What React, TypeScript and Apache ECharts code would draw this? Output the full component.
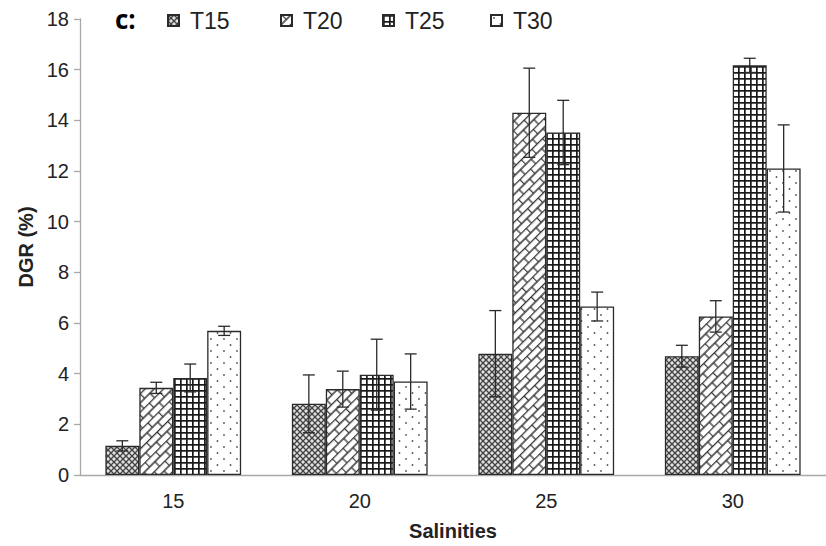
import { useEffect, useRef } from "react";
import * as echarts from "echarts";

// Daily growth rate by salinity, one series per temperature
const salinities = ["15", "20", "25", "30"];
const seriesNames = ["T15", "T20", "T25", "T30"];

const t15 = [1.15, 2.81, 4.79, 4.69];
const t20 = [3.44, 3.39, 14.3, 6.26];
const t25 = [3.83, 3.96, 13.52, 16.17];
const t30 = [5.69, 3.69, 6.65, 12.1];

// standard deviations drawn as error bars
const t15Err = [0.2, 1.14, 1.7, 0.43];
const t20Err = [0.22, 0.71, 1.76, 0.62];
const t25Err = [0.55, 1.4, 1.27, 0.28];
const t30Err = [0.18, 1.09, 0.57, 1.72];

const yMin = 0;
const yMax = 18;
const yStep = 2;

const FONT = "'Liberation Sans', Arial, Helvetica, sans-serif";
const BAR_FRAC = 0.182;
const legendLefts = [167, 280, 382, 490];

function tile(w: number, h: number, draw: (ctx: CanvasRenderingContext2D) => void) {
  const c = document.createElement("canvas");
  c.width = w;
  c.height = h;
  const ctx = c.getContext("2d")!;
  draw(ctx);
  return c;
}

function makePatterns() {
  // T15: dark diamond mesh over grey
  const mesh = tile(6, 6, (ctx) => {
    ctx.fillStyle = "#c4c4c4";
    ctx.fillRect(0, 0, 6, 6);
    ctx.strokeStyle = "#3e3e3e";
    ctx.lineWidth = 1.2;
    ctx.beginPath();
    ctx.moveTo(-1, -1);
    ctx.lineTo(7, 7);
    ctx.moveTo(7, -1);
    ctx.lineTo(-1, 7);
    ctx.stroke();
    ctx.fillStyle = "#ffffff";
    ctx.fillRect(2.5, 0, 1, 1);
    ctx.fillRect(0, 2.5, 1, 1);
    ctx.fillRect(5, 2.5, 1, 1);
    ctx.fillRect(2.5, 5, 1, 1);
  });
  // T20: diagonal brick
  const brick = tile(15, 13, (ctx) => {
    ctx.fillStyle = "#ffffff";
    ctx.fillRect(0, 0, 15, 13);
    ctx.strokeStyle = "#333333";
    ctx.lineWidth = 1.3;
    ctx.beginPath();
    ctx.moveTo(0, 0.5);
    ctx.lineTo(15, 0.5);
    ctx.moveTo(0, 7);
    ctx.lineTo(15, 7);
    ctx.moveTo(0.5, 0);
    ctx.lineTo(0.5, 7);
    ctx.moveTo(8, 7);
    ctx.lineTo(8, 13);
    ctx.stroke();
  });
  // T25: dense black grid
  const grid = tile(6, 6, (ctx) => {
    ctx.fillStyle = "#ffffff";
    ctx.fillRect(0, 0, 6, 6);
    ctx.fillStyle = "#1a1a1a";
    ctx.fillRect(0, 0, 6, 1.7);
    ctx.fillRect(0, 0, 1.7, 6);
  });
  // T30: sparse staggered dots
  const dots = tile(13, 12, (ctx) => {
    ctx.fillStyle = "#ffffff";
    ctx.fillRect(0, 0, 13, 12);
    ctx.fillStyle = "#555555";
    ctx.beginPath();
    ctx.arc(3, 3, 0.9, 0, Math.PI * 2);
    ctx.arc(9.5, 9, 0.9, 0, Math.PI * 2);
    ctx.fill();
  });
  return [
    { image: mesh, repeat: "repeat", imageWidth: 6, imageHeight: 6 },
    { image: brick, repeat: "repeat", imageWidth: 15, imageHeight: 13, rotation: -Math.PI / 4 },
    { image: grid, repeat: "repeat", imageWidth: 6, imageHeight: 6 },
    { image: dots, repeat: "repeat", imageWidth: 13, imageHeight: 12 },
  ];
}

function errorSeries(idx: number, vals: number[], errs: number[]) {
  const style = { stroke: "#2a2a2a", lineWidth: 1.3 };
  return {
    type: "custom",
    name: seriesNames[idx] + " SD",
    data: vals.map((v, i) => [i, v, errs[i]]),
    encode: { x: 0, y: 1 },
    z: 10,
    silent: true,
    renderItem: (_params: any, api: any) => {
      const ci = api.value(0);
      const v = api.value(1);
      const e = api.value(2);
      const band = api.size([1, 0])[0];
      const bw = band * BAR_FRAC;
      const cx = api.coord([ci, v])[0] + (idx - 1.5) * bw;
      const top = api.coord([ci, v + e])[1];
      const bot = api.coord([ci, v - e])[1];
      const hw = 6;
      return {
        type: "group",
        children: [
          { type: "line", shape: { x1: cx, y1: top, x2: cx, y2: bot }, style },
          { type: "line", shape: { x1: cx - hw, y1: top, x2: cx + hw, y2: top }, style },
          { type: "line", shape: { x1: cx - hw, y1: bot, x2: cx + hw, y2: bot }, style },
        ],
      };
    },
  };
}

export default function App() {
  const ref = useRef<HTMLDivElement>(null);

  useEffect(() => {
    if (!ref.current) return;
    const chart = echarts.init(ref.current, null, { renderer: "svg" });
    const patterns = makePatterns();
    const values = [t15, t20, t25, t30];
    const errs = [t15Err, t20Err, t25Err, t30Err];

    const bars = values.map((vals, i) => ({
      type: "bar",
      name: seriesNames[i],
      data: vals,
      barWidth: `${BAR_FRAC * 100}%`,
      barGap: "0%",
      itemStyle: {
        color: patterns[i],
        borderColor: "#2a2a2a",
        borderWidth: 1.3,
      },
    }));

    const option: any = {
      animation: false,
      backgroundColor: "#ffffff",
      textStyle: { fontFamily: FONT },
      grid: { left: 80, right: -14, top: 19, bottom: 68 },
      legend: seriesNames.map((n, i) => ({
        data: [n],
        left: legendLefts[i],
        top: 9,
        padding: 0,
        itemWidth: 11,
        itemHeight: 11,
        icon: "rect",
        selectedMode: false,
        textStyle: { fontSize: 23, color: "#222222", fontFamily: FONT, padding: [0, 0, 0, 6] },
      })),
      graphic: [
        {
          type: "text",
          left: 115,
          top: 6,
          style: {
            text: "c:",
            fontSize: 26,
            fontWeight: "bold",
            fontFamily: "'Open Sans', 'Noto Sans', sans-serif",
            fill: "#000000",
          },
        },
      ],
      xAxis: {
        type: "category",
        data: salinities,
        axisLine: { lineStyle: { color: "#a8a8a8", width: 1.3 } },
        axisTick: { length: 6, lineStyle: { color: "#a8a8a8", width: 1.3 } },
        axisLabel: { fontSize: 20, color: "#222222", margin: 16, fontFamily: FONT },
        name: "Salinities",
        nameLocation: "middle",
        nameGap: 46,
        nameTextStyle: { fontSize: 20, fontWeight: "bold", color: "#222222", fontFamily: FONT },
      },
      yAxis: {
        type: "value",
        min: yMin,
        max: yMax,
        interval: yStep,
        axisLine: { show: true, lineStyle: { color: "#a8a8a8", width: 1.3 } },
        axisTick: { show: true, length: 6, lineStyle: { color: "#a8a8a8", width: 1.3 } },
        splitLine: { show: false },
        axisLabel: { fontSize: 20, color: "#222222", margin: 11, fontFamily: FONT },
        name: "DGR (%)",
        nameLocation: "middle",
        nameGap: 38,
        nameTextStyle: { fontSize: 20, fontWeight: "bold", color: "#222222", fontFamily: FONT },
      },
      series: [...bars, ...values.map((vals, i) => errorSeries(i, vals, errs[i]))],
    };

    chart.setOption(option);
    return () => chart.dispose();
  }, []);

  return (
    <div
      ref={ref}
      style={{ position: "absolute", left: 0, top: 0, width: 826, height: 546, overflow: "hidden" }}
    />
  );
}
